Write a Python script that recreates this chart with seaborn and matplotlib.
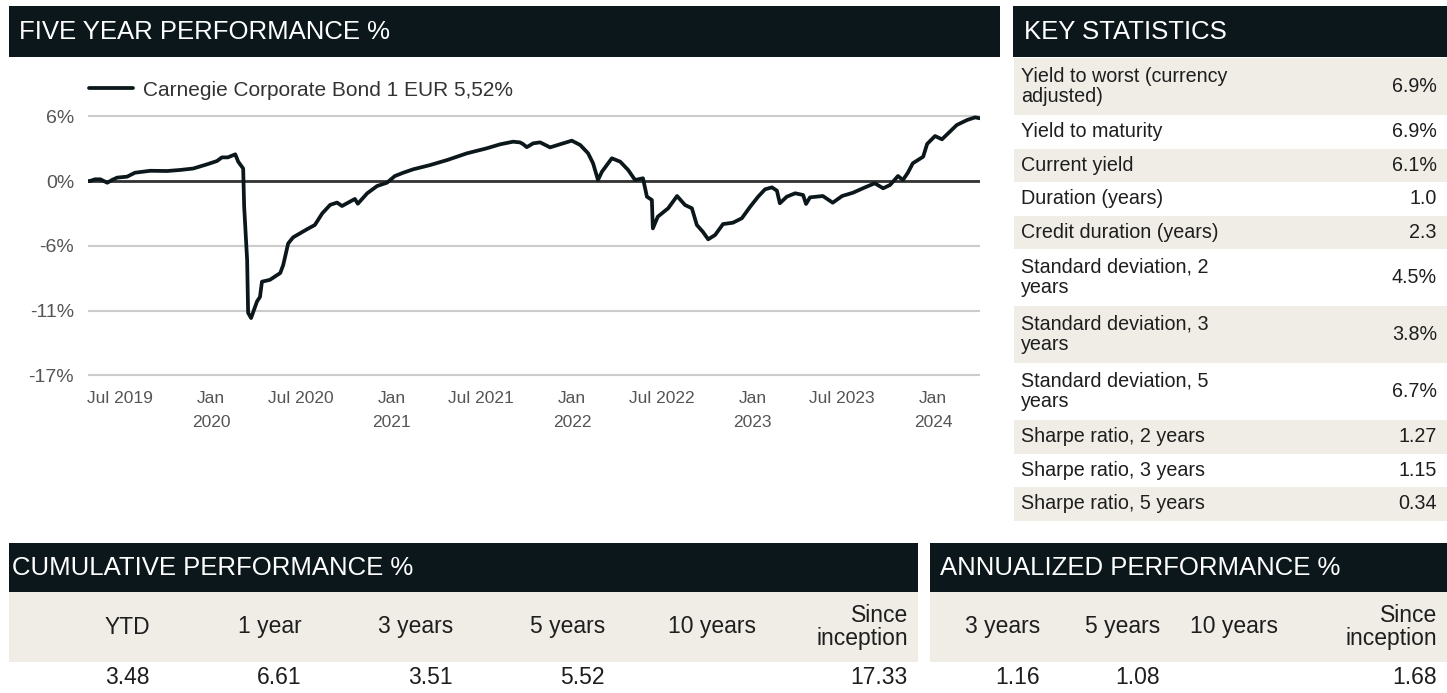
import numpy as np
import pandas as pd
import matplotlib
matplotlib.use("Agg")
import matplotlib.pyplot as plt
from matplotlib.patches import Rectangle
import seaborn as sns

# ---------------- data ----------------
series_name = "Carnegie Corporate Bond 1 EUR 5,52%"
perf_dates = [
    "2019-04-27", "2019-05-01", "2019-05-11", "2019-05-22", "2019-06-05", "2019-06-15",
    "2019-06-25", "2019-07-15", "2019-07-31", "2019-08-31", "2019-10-04", "2019-10-30",
    "2019-11-26", "2019-12-24", "2020-01-13", "2020-01-23", "2020-02-04", "2020-02-19",
    "2020-02-25", "2020-03-06", "2020-03-08", "2020-03-14", "2020-03-16", "2020-03-22",
    "2020-04-03", "2020-04-09", "2020-04-13", "2020-04-29", "2020-05-20", "2020-05-26",
    "2020-06-05", "2020-06-15", "2020-07-13", "2020-07-29", "2020-08-13", "2020-08-29",
    "2020-09-12", "2020-09-22", "2020-10-02", "2020-10-18", "2020-10-24", "2020-11-12",
    "2020-12-02", "2020-12-22", "2021-01-07", "2021-01-24", "2021-02-13", "2021-03-19",
    "2021-04-23", "2021-06-02", "2021-07-12", "2021-08-08", "2021-09-03", "2021-09-17",
    "2021-09-23", "2021-10-01", "2021-10-14", "2021-10-28", "2021-11-17", "2021-12-07",
    "2021-12-31", "2022-01-17", "2022-02-02", "2022-02-12", "2022-02-22", "2022-03-02",
    "2022-03-22", "2022-04-08", "2022-04-24", "2022-05-08", "2022-05-24", "2022-06-01",
    "2022-06-11", "2022-06-13", "2022-06-23", "2022-07-14", "2022-08-01", "2022-08-17",
    "2022-08-31", "2022-09-10", "2022-09-22", "2022-10-03", "2022-10-17", "2022-11-02",
    "2022-11-22", "2022-12-10", "2022-12-27", "2023-01-12", "2023-01-26", "2023-02-09",
    "2023-02-19", "2023-02-25", "2023-03-11", "2023-03-28", "2023-04-13", "2023-04-19",
    "2023-04-27", "2023-05-23", "2023-06-12", "2023-07-01", "2023-07-23", "2023-08-12",
    "2023-09-05", "2023-09-22", "2023-10-06", "2023-10-22", "2023-11-01", "2023-11-11",
    "2023-11-21", "2023-12-12", "2023-12-20", "2024-01-05", "2024-01-19", "2024-02-04",
    "2024-02-18", "2024-03-10", "2024-03-26", "2024-04-05",
]
perf_values = [
    0.00, 0.00, 0.15, 0.15, -0.15, 0.10,
    0.30, 0.38, 0.73, 0.90, 0.88, 0.97,
    1.10, 1.47, 1.76, 2.08, 2.08, 2.35,
    1.70, 1.10, -2.26, -6.95, -11.60, -12.06,
    -10.60, -10.20, -8.86, -8.70, -8.10, -7.40,
    -5.50, -4.96, -4.25, -3.87, -2.85, -2.10,
    -1.90, -2.20, -1.96, -1.58, -2.00, -1.08,
    -0.44, -0.15, 0.44, 0.73, 1.03, 1.40,
    1.85, 2.44, 2.88, 3.23, 3.46, 3.40,
    3.26, 2.98, 3.32, 3.40, 2.96, 3.23,
    3.55, 3.17, 2.44, 1.56, 0.09, 0.82,
    2.00, 1.70, 0.97, 0.09, 0.24, -1.38,
    -1.67, -4.17, -3.14, -2.40, -1.32, -2.11,
    -2.40, -3.87, -4.46, -5.13, -4.75, -3.79,
    -3.67, -3.28, -2.26, -1.38, -0.73, -0.56,
    -0.85, -1.96, -1.38, -1.08, -1.23, -2.02,
    -1.44, -1.32, -1.91, -1.32, -1.03, -0.64,
    -0.20, -0.64, -0.35, 0.44, 0.09, 0.73,
    1.56, 2.14, 3.26, 3.96, 3.67, 4.34,
    4.93, 5.37, 5.60, 5.52,
]
y_ticks = [5.7, 0.0, -5.7, -11.4, -17.1]
y_tick_labels = ["6%", "0%", "-6%", "-11%", "-17%"]
x_ticks = ["2019-07-01", "2020-01-01", "2020-07-01", "2021-01-01", "2021-07-01",
           "2022-01-01", "2022-07-01", "2023-01-01", "2023-07-01", "2024-01-01"]
x_tick_labels = ["Jul 2019", "Jan\n2020", "Jul 2020", "Jan\n2021", "Jul 2021",
                 "Jan\n2022", "Jul 2022", "Jan\n2023", "Jul 2023", "Jan\n2024"]

stat_labels = ["Yield to worst (currency\nadjusted)", "Yield to maturity", "Current yield",
               "Duration (years)", "Credit duration (years)", "Standard deviation, 2\nyears",
               "Standard deviation, 3\nyears", "Standard deviation, 5\nyears",
               "Sharpe ratio, 2 years", "Sharpe ratio, 3 years", "Sharpe ratio, 5 years"]
stat_values = ["6.9%", "6.9%", "6.1%", "1.0", "2.3", "4.5%", "3.8%", "6.7%",
               "1.27", "1.15", "0.34"]

cum_headers = ["YTD", "1 year", "3 years", "5 years", "10 years", "Since\ninception"]
cum_values = ["3.48", "6.61", "3.51", "5.52", "", "17.33"]
ann_headers = ["3 years", "5 years", "10 years", "Since\ninception"]
ann_values = ["1.16", "1.08", "", "1.68"]

# ---------------- style ----------------
W, H = 1447, 693
DARK = "#0b171b"
BEIGE = "#f0ede6"
TXT = "#1e1e1e"
AXT = "#555555"

sns.set_theme(style="white")
plt.rcParams["font.family"] = ["Liberation Sans", "DejaVu Sans"]

fig = plt.figure(figsize=(W / 100, H / 100), dpi=100)
fig.patch.set_facecolor("white")

bg = fig.add_axes([0, 0, 1, 1])
bg.set_xlim(0, W)
bg.set_ylim(H, 0)
bg.axis("off")


def box(x0, x1, y0, y1, color):
    bg.add_patch(Rectangle((x0, y0), x1 - x0, y1 - y0, facecolor=color, edgecolor="none", lw=0))


def px_axes(x0, y0, x1, y1):
    return [x0 / W, 1 - y1 / H, (x1 - x0) / W, (y1 - y0) / H]


# ---------------- section headers ----------------
HFS = 18.5
box(9, 1000, 6, 57, DARK)
bg.text(19, 32, "FIVE YEAR PERFORMANCE %", color="white", fontsize=HFS, va="center", ha="left")
box(1013, W, 6, 57, DARK)
bg.text(1024, 32, "KEY STATISTICS", color="white", fontsize=HFS, va="center", ha="left")
box(9, 918, 543, 592, DARK)
bg.text(12, 568, "CUMULATIVE PERFORMANCE %", color="white", fontsize=HFS, va="center", ha="left")
box(930, W, 543, 592, DARK)
bg.text(940, 568, "ANNUALIZED PERFORMANCE %", color="white", fontsize=HFS, va="center", ha="left")

# ---------------- key statistics ----------------
y = 58
for i, (lab, val) in enumerate(zip(stat_labels, stat_values)):
    h = 57 if "\n" in lab else 33.5
    if i % 2 == 0:
        box(1014, W, y, y + h, BEIGE)
    bg.text(1021, y + h / 2, lab, color=TXT, fontsize=14.2, va="center", ha="left", linespacing=1.1)
    bg.text(1437, y + h / 2, val, color=TXT, fontsize=14.2, va="center", ha="right")
    y += h

# ---------------- performance tables ----------------
BFS = 16.5
box(9, 918, 592, 662, BEIGE)
box(930, W, 592, 662, BEIGE)
cum_right = [150, 302, 453, 605, 756, 908]
ann_right = [1040, 1160, 1278, 1437]
for xr, hd, v in zip(cum_right, cum_headers, cum_values):
    bg.text(xr, 627, hd, color=TXT, fontsize=BFS, ha="right", va="center", linespacing=0.95, multialignment="right")
    bg.text(xr, 677, v, color=TXT, fontsize=BFS, ha="right", va="center")
for xr, hd, v in zip(ann_right, ann_headers, ann_values):
    bg.text(xr, 627, hd, color=TXT, fontsize=BFS, ha="right", va="center", linespacing=0.95, multialignment="right")
    bg.text(xr, 677, v, color=TXT, fontsize=BFS, ha="right", va="center")

# ---------------- line chart ----------------
df = pd.DataFrame({"date": pd.to_datetime(perf_dates), "value": perf_values})
ax = fig.add_axes(px_axes(88, 110, 980, 377))
ax.set_facecolor("none")
ax.axhline(0, color="#333333", lw=2.0, zorder=1)
sns.lineplot(data=df, x="date", y="value", ax=ax, color=DARK, lw=2.7, label=series_name, zorder=3)
ax.set_xlim(df["date"].iloc[0], df["date"].iloc[-1])
ax.set_ylim(-17.25, 6.25)
ax.set_yticks(y_ticks)
ax.set_yticklabels(y_tick_labels)
ax.set_xticks(pd.to_datetime(x_ticks))
ax.set_xticklabels(x_tick_labels, linespacing=1.75)
ax.grid(axis="y", color="#cccccc", lw=1.5, zorder=0)
ax.grid(axis="x", visible=False)
ax.set_xlabel("")
ax.set_ylabel("")
for s in ax.spines.values():
    s.set_visible(False)
ax.tick_params(axis="y", length=0, pad=10, labelsize=14, labelcolor=AXT)
ax.tick_params(axis="x", length=0, pad=10, labelsize=12.5, labelcolor=AXT)
for t in ax.get_xticklabels():
    t.set_verticalalignment("top")
ax.legend(loc="center left", bbox_to_anchor=(89 / W, 1 - 90 / H), bbox_transform=fig.transFigure,
          frameon=False, fontsize=15, handlelength=2.1, handletextpad=0.5,
          borderpad=0, borderaxespad=0, labelcolor="#333333")

fig.savefig("out.png", dpi=100, facecolor="white")
